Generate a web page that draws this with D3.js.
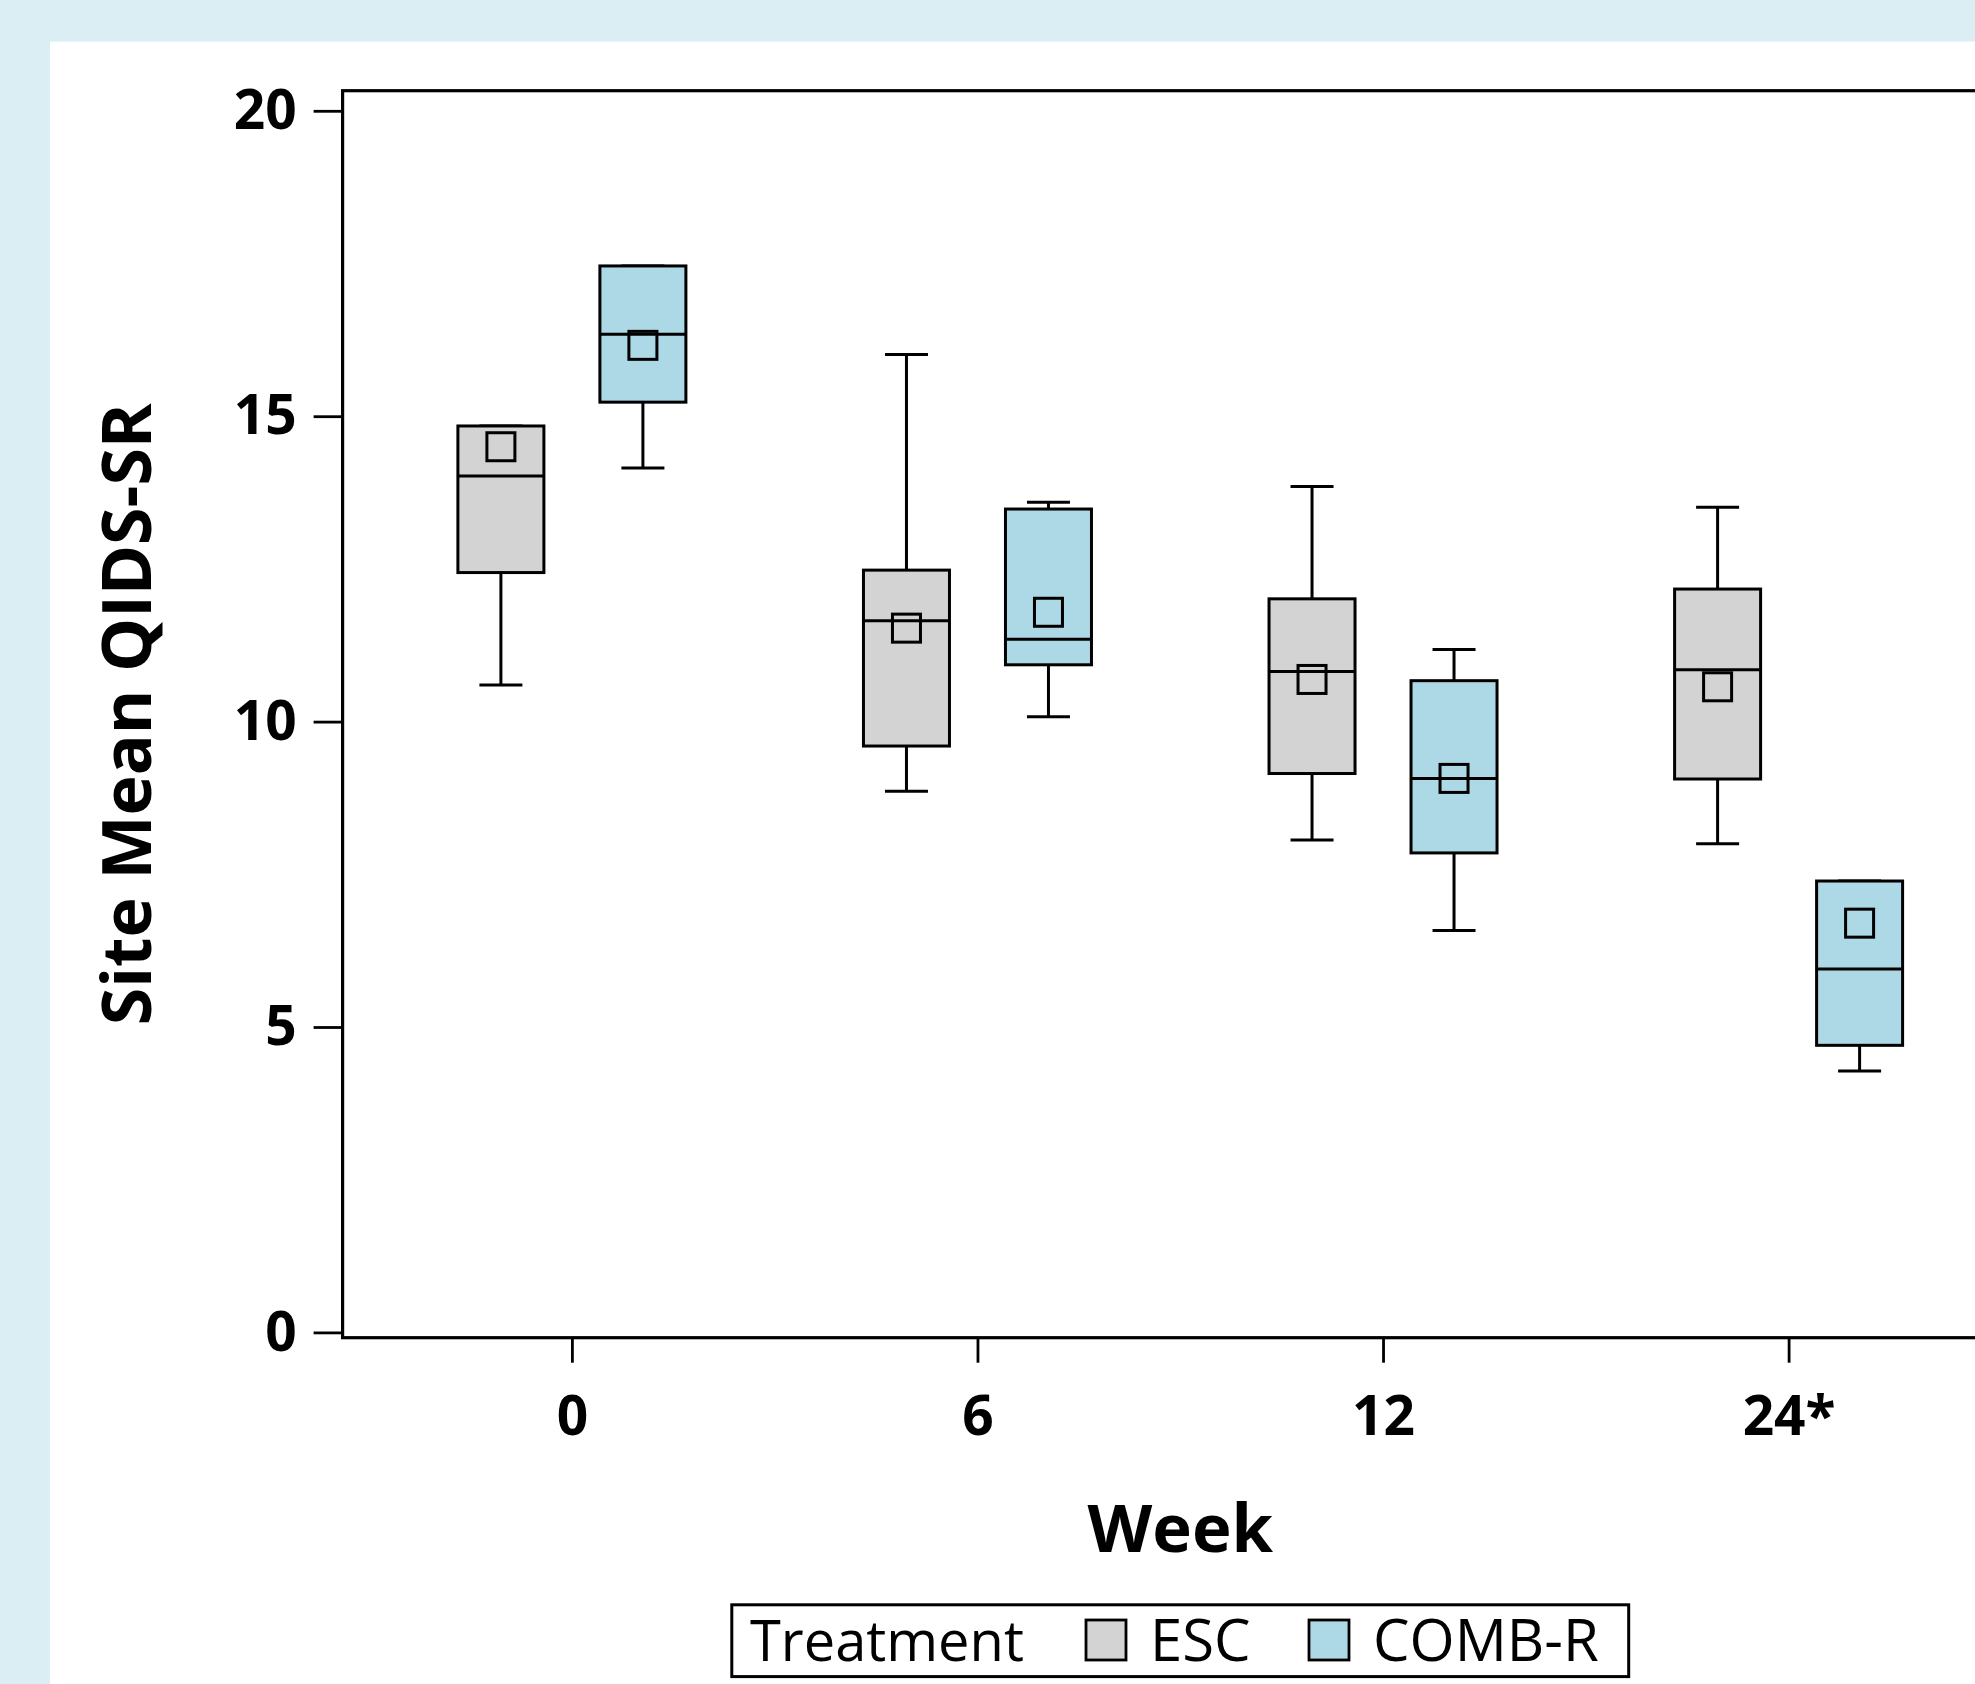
<!DOCTYPE html>
<html>
<head>
<meta charset="utf-8">
<script src="https://cdn.jsdelivr.net/npm/d3@7"></script>
<style>
    body { margin: 0; padding: 0; background: #dbeef3; }
    svg { display: block; }
    text { font-family: "Open Sans", "Liberation Sans", sans-serif; fill: #000; }
</style>
</head>
<body>
<div class="qidsBox"></div>
<script>

// categories on the x axis
var weeks = ["0", "6", "12", "24*"];
var treatments = ["ESC", "COMB-R"];

// ESC series (site mean QIDS-SR)
var escMin = [10.60, 8.86, 8.06, 8.00];
var escQ1 = [12.44, 9.60, 9.15, 9.06];
var escMedian = [14.02, 11.65, 10.82, 10.85];
var escQ3 = [14.84, 12.48, 12.01, 12.17];
var escMax = [14.84, 16.01, 13.85, 13.51];
var escMean = [14.50, 11.53, 10.69, 10.57];

// COMB-R series
var combMin = [14.15, 10.08, 6.58, 4.28];
var combQ1 = [15.23, 10.93, 7.85, 4.70];
var combMedian = [16.34, 11.35, 9.07, 5.95];
var combQ3 = [17.46, 13.48, 10.67, 7.39];
var combMax = [17.46, 13.59, 11.18, 7.39];
var combMean = [16.16, 11.79, 9.07, 6.70];

var yTicks = [0, 5, 10, 15, 20];

var c = {
    width: 1975,
    height: 1684,
    frameLeft: 342.6,
    frameRight: 2018,
    frameTop: 90.7,
    frameBottom: 1337.7,
    boxWidth: 86,
    capWidth: 43,
    meanSize: 28
};

var colors = {"ESC": "#d3d3d3", "COMB-R": "#add8e6"};

var svg = d3.select(".qidsBox").append("svg")
    .attr("width", c.width)
    .attr("height", c.height);

// light blue page background with a white panel
svg.append("rect")
    .attr("width", c.width)
    .attr("height", c.height)
    .attr("fill", "#dbeef3");

svg.append("rect")
    .attr("x", 50)
    .attr("y", 41.6)
    .attr("width", c.width - 50)
    .attr("height", c.height - 41.6)
    .attr("fill", "#ffffff");

// scales
var x = d3.scalePoint()
    .domain(weeks)
    .range([571.9, 1788.6]);

var xSub = d3.scalePoint()
    .domain(treatments)
    .range([-71, 71]);

var y = d3.scaleLinear()
    .domain([0, 20])
    .range([1332.4, 110.8]);

// building one record per box
var boxes = [];
weeks.forEach(function (w, i) {
    boxes.push({week: w, trt: "ESC", min: escMin[i], q1: escQ1[i], med: escMedian[i], q3: escQ3[i], max: escMax[i], mean: escMean[i]});
    boxes.push({week: w, trt: "COMB-R", min: combMin[i], q1: combQ1[i], med: combMedian[i], q3: combQ3[i], max: combMax[i], mean: combMean[i]});
});

// axes
var yAxis = svg.append("g")
    .attr("transform", "translate(" + c.frameLeft + ",0)")
    .call(d3.axisLeft(y).tickValues(yTicks).tickSize(29).tickPadding(17));

var xAxis = svg.append("g")
    .attr("transform", "translate(0," + c.frameBottom + ")")
    .call(d3.axisBottom(x).tickSize(25).tickPadding(33));

[yAxis, xAxis].forEach(function (a) {
    a.select(".domain").remove();
    a.selectAll("line").attr("stroke", "#000").attr("stroke-width", 2.8);
    a.selectAll("text")
        .attr("font-size", 55)
        .attr("font-weight", "bold")
        .attr("font-family", "Open Sans, Liberation Sans, sans-serif");
});

// plot frame
svg.append("rect")
    .attr("x", c.frameLeft)
    .attr("y", c.frameTop)
    .attr("width", c.frameRight - c.frameLeft)
    .attr("height", c.frameBottom - c.frameTop)
    .attr("fill", "none")
    .attr("stroke", "#000")
    .attr("stroke-width", 3.2);

// boxes
var gBox = svg.selectAll(".box")
    .data(boxes)
    .enter().append("g")
    .attr("class", "box")
    .attr("transform", function (d) {
        return "translate(" + (x(d.week) + xSub(d.trt)) + ",0)";
    });

// whiskers
gBox.append("line")
    .attr("x1", 0).attr("x2", 0)
    .attr("y1", function (d) { return y(d.max); })
    .attr("y2", function (d) { return y(d.min); })
    .attr("stroke", "#000")
    .attr("stroke-width", 3);

gBox.selectAll(".cap")
    .data(function (d) { return [d.min, d.max]; })
    .enter().append("line")
    .attr("class", "cap")
    .attr("x1", -c.capWidth / 2).attr("x2", c.capWidth / 2)
    .attr("y1", function (v) { return y(v); })
    .attr("y2", function (v) { return y(v); })
    .attr("stroke", "#000")
    .attr("stroke-width", 3);

gBox.append("rect")
    .attr("x", -c.boxWidth / 2)
    .attr("width", c.boxWidth)
    .attr("y", function (d) { return y(d.q3); })
    .attr("height", function (d) { return y(d.q1) - y(d.q3); })
    .attr("fill", function (d) { return colors[d.trt]; })
    .attr("stroke", "#000")
    .attr("stroke-width", 3);

// median
gBox.append("line")
    .attr("x1", -c.boxWidth / 2).attr("x2", c.boxWidth / 2)
    .attr("y1", function (d) { return y(d.med); })
    .attr("y2", function (d) { return y(d.med); })
    .attr("stroke", "#000")
    .attr("stroke-width", 3);

// mean marker (hollow square)
gBox.append("rect")
    .attr("x", -c.meanSize / 2)
    .attr("width", c.meanSize)
    .attr("y", function (d) { return y(d.mean) - c.meanSize / 2; })
    .attr("height", c.meanSize)
    .attr("fill", "none")
    .attr("stroke", "#000")
    .attr("stroke-width", 3);

// axis titles
svg.append("text")
    .attr("x", (c.frameLeft + c.frameRight) / 2)
    .attr("y", 1552)
    .attr("text-anchor", "middle")
    .attr("font-size", 67)
    .attr("font-weight", "bold")
    .text("Week");

svg.append("text")
    .attr("transform", "translate(151," + (c.frameTop + c.frameBottom) / 2 + ") rotate(-90)")
    .attr("text-anchor", "middle")
    .attr("font-size", 68)
    .attr("font-weight", "bold")
    .text("Site Mean QIDS-SR");

// legend
var legend = svg.append("g");

legend.append("rect")
    .attr("x", 731.8)
    .attr("y", 1604.8)
    .attr("width", 896.9)
    .attr("height", 71.8)
    .attr("fill", "#fff")
    .attr("stroke", "#000")
    .attr("stroke-width", 3);

legend.append("text")
    .attr("x", 750)
    .attr("y", 1661)
    .attr("font-size", 56)
    .text("Treatment");

var legendX = {"ESC": 1086, "COMB-R": 1309};

var gLeg = legend.selectAll(".legItem")
    .data(treatments)
    .enter().append("g")
    .attr("class", "legItem")
    .attr("transform", function (d) { return "translate(" + legendX[d] + ",0)"; });

gLeg.append("rect")
    .attr("y", 1620)
    .attr("width", 40)
    .attr("height", 40)
    .attr("fill", function (d) { return colors[d]; })
    .attr("stroke", "#000")
    .attr("stroke-width", 2.8);

gLeg.append("text")
    .attr("x", 64)
    .attr("y", 1661)
    .attr("font-size", 58)
    .text(function (d) { return d; });

</script>
</body>
</html>
